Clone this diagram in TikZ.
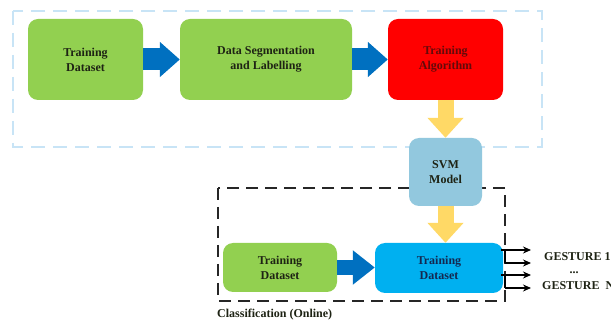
\documentclass[tikz,border=0pt]{standalone}
\usepackage{fontspec}
\setmainfont{Liberation Serif}
\usetikzlibrary{arrows.meta,calc}
\definecolor{cgreen}{RGB}{146,208,80}
\definecolor{cred}{RGB}{255,0,0}
\definecolor{csvm}{RGB}{146,200,222}
\definecolor{cblue}{RGB}{0,176,240}
\definecolor{carrow}{RGB}{0,112,192}
\definecolor{cyellow}{RGB}{255,217,102}
\definecolor{cdash}{RGB}{200,228,246}
\definecolor{ctext}{RGB}{30,35,20}
\definecolor{credtext}{RGB}{100,10,10}
\definecolor{cbluetext}{RGB}{20,40,80}
\tikzset{
  box/.style={rectangle, rounded corners=10pt, draw=none, align=center,
    font=\fontsize{12}{15}\selectfont\bfseries, text=ctext, inner sep=0pt},
  fatblue/.style={draw=carrow, line width=#1, -{Triangle[length=20pt,width=34pt]}},
  fatyellow/.style={draw=cyellow, line width=16pt, -{Triangle[length=20pt,width=35pt]}},
  outarrow/.style={draw=black, line width=1.2pt, -{Stealth[length=8pt,width=7pt]}},
  lbl/.style={font=\fontsize{12}{15}\selectfont\bfseries, text=ctext, inner sep=0pt},
}
\begin{document}
\begin{tikzpicture}[x=1pt,y=-1pt]
\useasboundingbox[fill=white] (0,0) rectangle (611,320);
% frames
\draw[cdash, line width=1.5pt, dash pattern=on 14pt off 8pt] (13,11) rectangle (542,147);
\draw[black!85, line width=2pt, dash pattern=on 12pt off 7pt] (218,188) rectangle (505,301);
% nodes
\node[box, fill=cgreen, minimum width=115pt, minimum height=81pt] (td1) at (85.5,59.5) {Training\\Dataset};
\node[box, fill=cgreen, minimum width=172pt, minimum height=81pt] (seg) at (266,59.5) {Data Segmentation\\and Labelling};
\node[box, fill=cred, minimum width=115pt, minimum height=81pt, text=credtext] (alg) at (445.5,59.5) {Training\\Algorithm};
\node[box, fill=csvm, minimum width=73pt, minimum height=68pt] (svm) at (445.5,172) {SVM\\Model};
\node[box, fill=cgreen, minimum width=114pt, minimum height=49pt] (td2) at (280,267.5) {Training\\Dataset};
\node[box, fill=cblue, minimum width=128pt, minimum height=50pt, text=cbluetext] (td3) at (439,268) {Training\\Dataset};
% big arrows
\draw[fatblue=22pt] (td1) -- (seg);
\draw[fatblue=22pt] (seg) -- (alg);
\draw[fatyellow] (alg) -- (svm);
\draw[fatyellow] (svm.south) -- (svm.south |- td3.north);
\draw[draw=carrow, line width=15pt, -{Triangle[length=22pt,width=33pt]}] (td2) -- (td2 -| td3.west);
% output arrows
\coordinate (o1) at (505,250);
\coordinate (o2) at (505,263);
\coordinate (o3) at (505,275);
\coordinate (o4) at (505,288);
\coordinate (e1) at (531,250);
\coordinate (e2) at (531,263);
\coordinate (e3) at (531,275);
\coordinate (e4) at (531,288);
\draw[line width=1.2pt] ($(td3.east |- o1)+(-2,0)$) -- (o1) -- (o2);
\draw[line width=1.2pt] ($(td3.east |- o3)+(-2,0)$) -- (o3) -- (o4);
\draw[outarrow] (o1) -- (e1);
\draw[outarrow] (o2) -- (e2);
\draw[outarrow] (o3) -- (e3);
\draw[outarrow] (o4) -- (e4);
% labels
\node[lbl, anchor=west] (g1) at (544,257) {GESTURE 1};
\node[lbl] (dots) at (574,272.5) {...};
\node[lbl, anchor=west] (gn) at (542,286) {GESTURE\ \ N};
\node[lbl, anchor=west] (cls) at (217,315) {Classification (Online)};
\end{tikzpicture}
\end{document}
